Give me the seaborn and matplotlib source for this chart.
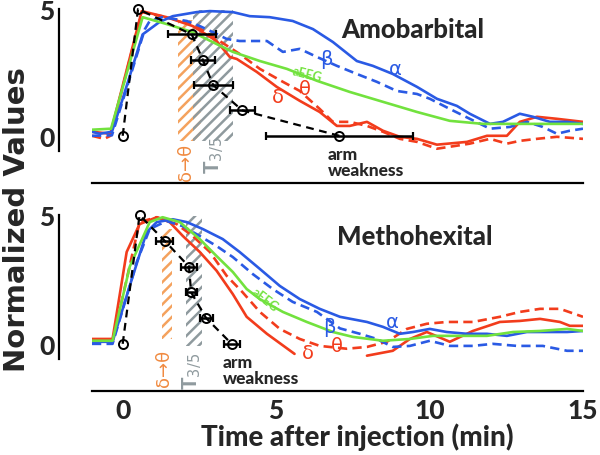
import numpy as np
import pandas as pd
import matplotlib
matplotlib.use("Agg")
import matplotlib.pyplot as plt
import seaborn as sns

sns.set_style("white")
plt.rcParams['font.family'] = ['Lato', 'DejaVu Sans']
plt.rcParams['hatch.linewidth'] = 1.8

# ---------------- data: Amobarbital (top) ----------------
amo_t_alpha = [-1.0, -0.75, -0.35, 0.0, 0.65, 1.2, 1.63, 2.41, 2.84, 3.59, 4.14, 4.79, 5.54, 6.2, 6.85,
               7.63, 8.15, 8.8, 9.59, 10.24, 10.89, 11.31, 11.97, 12.39, 12.94, 13.37, 13.92, 14.48, 15.0]
amo_alpha = [0.16, 0.08, 0.16, 1.46, 4.0, 4.49, 4.72, 4.88, 4.92, 4.88, 4.72, 4.68, 4.53, 4.21, 3.70,
             2.95, 2.76, 2.44, 1.93, 1.46, 1.18, 0.87, 0.47, 0.55, 0.87, 0.75, 0.55, 0.55, 0.47]
amo_t_beta = [-1.0, -0.35, 0.07, 0.72, 0.88, 1.3, 2.09, 2.51, 3.06, 3.39, 3.81, 4.7, 5.22, 5.77, 6.33,
              6.98, 7.63, 8.28, 8.93, 9.59, 10.01, 10.66, 11.31, 11.97, 12.62, 13.17, 13.69, 14.15, 14.57, 15.0]
amo_beta = [0.0, 0.02, 1.65, 4.2, 4.53, 4.68, 4.53, 4.33, 4.02, 3.82, 3.74, 3.74, 3.31, 3.43, 3.11,
            2.76, 2.44, 2.13, 1.77, 1.65, 1.46, 1.06, 0.67, 0.28, 0.35, 0.55, 0.35, 0.08, 0.2, 0.28]
amo_t_aeeg = [-1.0, -0.38, 0.65, 1.43, 2.28, 3.06, 3.59, 4.47, 5.35, 6.33, 7.4, 8.48, 9.59, 10.66,
              11.74, 12.85, 13.92, 15.0]
amo_aeeg = [0.24, 0.28, 4.68, 4.41, 4.09, 3.62, 3.31, 2.95, 2.64, 2.17, 1.73, 1.34, 0.94, 0.59,
            0.47, 0.47, 0.47, 0.47]
amo_t_delta = [-1.0, -0.4, 0.62, 1.43, 2.28, 3.06, 3.49, 3.72, 4.37, 5.02, 5.77, 6.42, 6.98, 7.4, 7.96,
               8.48, 9.03, 9.59, 10.24, 11.22, 11.87, 12.52, 12.94, 13.5, 14.15, 15.0]
amo_delta = [0.16, 0.08, 4.92, 4.68, 4.33, 3.74, 3.11, 3.03, 2.52, 1.93, 1.38, 0.94, 0.39, 0.39, 0.55,
             0.2, -0.04, -0.12, -0.35, -0.24, 0.0, 0.0, 0.55, 0.75, 0.67, 0.55]
amo_t_theta = [-1.0, -0.6, -0.4, 0.62, 1.43, 2.28, 3.06, 3.81, 4.47, 5.22, 5.77, 6.42, 6.85, 7.4, 7.96,
               8.48, 9.03, 9.59, 10.24, 10.89, 11.31, 11.97, 12.52, 12.94, 13.5, 14.15, 15.0]
amo_theta = [0.0, -0.12, 0.0, 4.88, 4.68, 4.41, 3.82, 3.23, 2.64, 2.13, 1.77, 1.06, 0.55, 0.55, 0.39,
             0.16, -0.12, -0.24, -0.51, -0.39, -0.31, -0.12, -0.31, -0.2, -0.12, -0.04, -0.12]
amo_arm_t = [0.0, 0.5, 2.25, 2.61, 2.95, 3.9, 7.06]
amo_arm_v = [0, 5, 4, 3, 2, 1, 0]
amo_arm_err = [0.0, 0.0, 0.78, 0.39, 0.64, 0.41, 2.4]
amo_band_dt = (1.8, 2.55)
amo_band_t35 = (2.3, 3.6)

# ---------------- data: Methohexital (bottom) ----------------
met_t_alpha = [-1.0, -0.33, 0.23, 0.78, 1.11, 1.63, 2.09, 2.61, 3.26, 3.81, 4.47, 5.12, 5.77, 6.42, 7.08,
               7.96, 8.48, 9.03, 9.46, 10.01, 10.56, 11.22, 11.87, 12.52, 13.17, 13.82, 14.48, 15.0]
met_alpha = [0.08, 0.08, 2.25, 4.34, 4.73, 4.84, 4.73, 4.46, 4.07, 3.57, 2.91, 2.25, 1.74, 1.36, 1.05,
             0.85, 0.66, 0.39, 0.46, 0.58, 0.46, 0.39, 0.39, 0.31, 0.46, 0.46, 0.46, 0.5]
met_t_beta = [-1.0, -0.33, 0.46, 0.88, 1.43, 1.96, 2.51, 3.06, 3.59, 4.24, 4.89, 5.54, 6.33, 7.08, 7.73,
              8.28, 8.8, 9.36, 10.01, 10.66, 11.41, 12.06, 12.85, 13.69, 14.48, 15.0]
met_beta = [0.0, 0.0, 3.18, 4.46, 4.77, 4.57, 4.19, 3.8, 3.37, 2.71, 2.13, 1.63, 1.24, 0.6, 0.39,
            0.19, -0.12, -0.08, 0.12, -0.08, -0.08, 0.0, -0.08, -0.08, -0.27, -0.27]
met_t_aeeg = [-1.0, -0.33, 0.23, 0.88, 1.3, 1.86, 2.51, 3.06, 3.59, 4.04, 4.47, 5.22, 6.0, 6.85, 7.5,
              8.48, 9.36, 10.11, 10.99, 11.87, 12.72, 13.6, 14.48, 15.0]
met_aeeg = [0.12, 0.12, 3.0, 4.73, 4.92, 4.73, 4.07, 3.41, 2.79, 2.13, 1.74, 1.24, 0.85, 0.46, 0.27,
            0.12, 0.19, 0.31, 0.31, 0.31, 0.46, 0.5, 0.58, 0.5]
met_t_delta_a = [-1.0, -0.33, 0.13, 0.55, 1.11, 1.53, 1.96, 2.51, 3.06, 3.59, 4.04, 4.7, 5.6]
met_delta_a = [0.19, 0.19, 3.57, 4.65, 4.92, 4.73, 4.19, 3.57, 2.84, 1.93, 1.05, 0.39, -0.39]
met_t_delta_b = [7.96, 8.8, 9.36, 9.91, 10.66, 11.41, 12.29, 12.94, 13.6, 14.25, 14.57, 15.0]
met_delta_b = [-0.46, -0.27, 0.19, 0.46, 0.08, 0.5, 0.85, 0.89, 0.97, 0.85, 0.7, 0.7]
met_t_theta = [-1.0, -0.33, 0.55, 1.11, 1.76, 2.28, 2.84, 3.39, 3.91, 4.47, 5.12, 5.77, 6.42, 7.3, 7.96,
               8.61, 9.26, 9.91, 10.56, 11.41, 12.29, 12.94, 13.6, 14.25, 15.0]
met_theta = [0.08, 0.08, 4.73, 4.92, 4.65, 4.19, 3.57, 2.64, 2.0, 1.24, 0.58, 0.19, -0.08, -0.19, -0.12,
             0.08, 0.58, 0.78, 0.85, 0.85, 1.05, 1.24, 1.36, 1.36, 1.05]
met_arm_t = [0.0, 0.55, 1.37, 2.16, 2.23, 2.72, 3.55]
met_arm_v = [0, 5, 4, 3, 2, 1, 0]
met_arm_err = [0.0, 0.0, 0.27, 0.25, 0.18, 0.21, 0.26]
met_band_dt = (1.27, 1.6)
met_band_t35 = (2.05, 2.6)

xticks = [0, 5, 10, 15]
yticks = [0, 1, 2, 3, 4, 5]
ytick_labels = ['0', '', '', '', '', '5']

BLUE = '#2a5ae4'
RED = '#f23c1c'
GREEN = '#72e23e'
ORANGE = '#f4a25e'
GRAY = '#8f9a9e'
DASH = (0, (3.5, 2.0))
HEAVY = 'black'

W, H = 600, 456
fig = plt.figure(figsize=(W / 100, H / 100), dpi=100)


def px_axes(left, right, top, bottom):
    return fig.add_axes([left / W, 1 - bottom / H, (right - left) / W, (bottom - top) / H])


ax1 = px_axes(92, 583, 5, 152)
ax1.set_ylim(-0.6, 5.2)
ax2 = px_axes(92, 583, 211, 359)
ax2.set_ylim(-0.55, 5.2)


def band(ax, span, ylo, yhi, color):
    ax.fill_between(list(span), ylo, yhi, facecolor='none', edgecolor=color, hatch='///',
                    linewidth=0, zorder=0)


def curve(ax, t, v, color, dashed=False):
    kw = dict(linestyle=DASH) if dashed else {}
    sns.lineplot(x=t, y=v, ax=ax, color=color, linewidth=1.9, sort=False, estimator=None, **kw)


def arm(ax, t, v, err):
    sns.lineplot(x=t, y=v, ax=ax, color='black', linewidth=1.6, sort=False, estimator=None,
                 linestyle=(0, (3.5, 2.5)), marker='o', markersize=6.5, markerfacecolor='none',
                 markeredgecolor='black', markeredgewidth=1.4, zorder=5)
    ax.errorbar(t[2:], v[2:], xerr=err[2:], fmt='none', ecolor='black', elinewidth=1.8,
                capsize=3, capthick=1.6, zorder=5)


# bands
band(ax1, amo_band_dt, -0.2, 4.55, ORANGE)
band(ax1, amo_band_t35, -0.2, 4.95, GRAY)
band(ax2, met_band_dt, 0.2, 4.45, ORANGE)
band(ax2, met_band_t35, -0.1, 4.95, GRAY)

# top curves
curve(ax1, amo_t_theta, amo_theta, RED, dashed=True)
curve(ax1, amo_t_delta, amo_delta, RED)
curve(ax1, amo_t_beta, amo_beta, BLUE, dashed=True)
curve(ax1, amo_t_alpha, amo_alpha, BLUE)
curve(ax1, amo_t_aeeg, amo_aeeg, GREEN)
arm(ax1, amo_arm_t, amo_arm_v, amo_arm_err)

# bottom curves
curve(ax2, met_t_theta, met_theta, RED, dashed=True)
curve(ax2, met_t_delta_a, met_delta_a, RED)
curve(ax2, met_t_delta_b, met_delta_b, RED)
curve(ax2, met_t_beta, met_beta, BLUE, dashed=True)
curve(ax2, met_t_alpha, met_alpha, BLUE)
curve(ax2, met_t_aeeg, met_aeeg, GREEN)
arm(ax2, met_arm_t, met_arm_v, met_arm_err)

for ax in (ax1, ax2):
    ax.set_xlim(-1, 15)
    ax.set_xlabel('')
    ax.set_ylabel('')
    ax.patch.set_alpha(0)
    for s in ('top', 'right'):
        ax.spines[s].set_visible(False)
    ax.spines['left'].set_position(('outward', 24))
    ax.spines['left'].set_bounds(-0.6, 5)
    ax.spines['bottom'].set_bounds(-1, 15)
    for s in ('left', 'bottom'):
        ax.spines[s].set_linewidth(1.6)
        ax.spines[s].set_color('black')
    ax.set_xticks(xticks)
    ax.set_yticks(yticks)
    ax.set_yticklabels(ytick_labels)
    ax.tick_params(axis='both', direction='in', length=4.5, width=1.6, color='black')
    ax.tick_params(axis='y', pad=3, labelsize=19)
    for lab in ax.get_yticklabels():
        lab.set_fontweight(HEAVY)

ax1.spines['bottom'].set_position(('outward', 23))
ax2.spines['bottom'].set_position(('outward', 24))
ax1.tick_params(axis='x', labelbottom=False)
ax2.tick_params(axis='x', labelsize=19, pad=5)
for lab in ax2.get_xticklabels():
    lab.set_fontweight(HEAVY)

# titles
ax1.text(9.46, 4.21, 'Amobarbital', ha='center', va='center', fontsize=18.5, fontweight=HEAVY)
ax2.text(9.52, 4.19, 'Methohexital', ha='center', va='center', fontsize=18.5, fontweight=HEAVY)

# curve labels
GK = dict(ha='center', va='center', fontsize=14, family=['DejaVu Sans'])
ax1.text(6.65, 3.05, 'β', color=BLUE, **GK)
ax1.text(8.87, 2.64, 'α', color=BLUE, **GK)
ax1.text(5.05, 1.57, 'δ', color=RED, **GK)
ax1.text(5.93, 1.85, 'θ', color=RED, **GK)
ax1.text(6.03, 2.44, 'aEEG', color=GREEN, fontsize=9, fontweight='bold', rotation=-14,
         ha='center', va='center')
ax2.text(6.75, 0.66, 'β', color=BLUE, **GK)
ax2.text(8.8, 0.85, 'α', color=BLUE, **GK)
ax2.text(6.02, -0.33, 'δ', color=RED, **GK)
ax2.text(6.98, -0.08, 'θ', color=RED, **GK)
ax2.text(4.63, 1.74, 'aEEG', color=GREEN, fontsize=9, fontweight='bold', rotation=-38,
         ha='center', va='center')

# band labels
ax1.text(2.05, -1.0, 'δ→θ', color='#f08a40', rotation=90, ha='center', va='center', fontsize=13,
         family=['DejaVu Sans'], clip_on=False)
ax1.text(3.0, -0.75, r'T$_{3/5}$', color=GRAY, rotation=90, ha='center', va='center', fontsize=15,
         fontweight=HEAVY, clip_on=False)
ax2.text(1.34, -0.9, 'δ→θ', color='#f08a40', rotation=90, ha='center', va='center', fontsize=13,
         family=['DejaVu Sans'], clip_on=False)
ax2.text(2.27, -1.05, r'T$_{3/5}$', color=GRAY, rotation=90, ha='center', va='center', fontsize=15,
         fontweight=HEAVY, clip_on=False)

# arm weakness labels
ax1.text(6.68, -1.02, 'arm\nweakness', ha='left', va='center', fontsize=12.5, fontweight=HEAVY,
         linespacing=1.0, clip_on=False)
ax2.text(3.25, -1.0, 'arm\nweakness', ha='left', va='center', fontsize=12.5, fontweight=HEAVY,
         linespacing=1.0, clip_on=False)

fig.text(17 / W, 1 - 220 / H, 'Normalized Values', rotation=90, ha='center', va='center',
         fontsize=21, fontweight='bold', family=['DejaVu Sans'])
fig.text(357 / W, 1 - 437 / H, 'Time after injection (min)', ha='center', va='center',
         fontsize=20, fontweight=HEAVY)

fig.savefig('out.png', dpi=100)
